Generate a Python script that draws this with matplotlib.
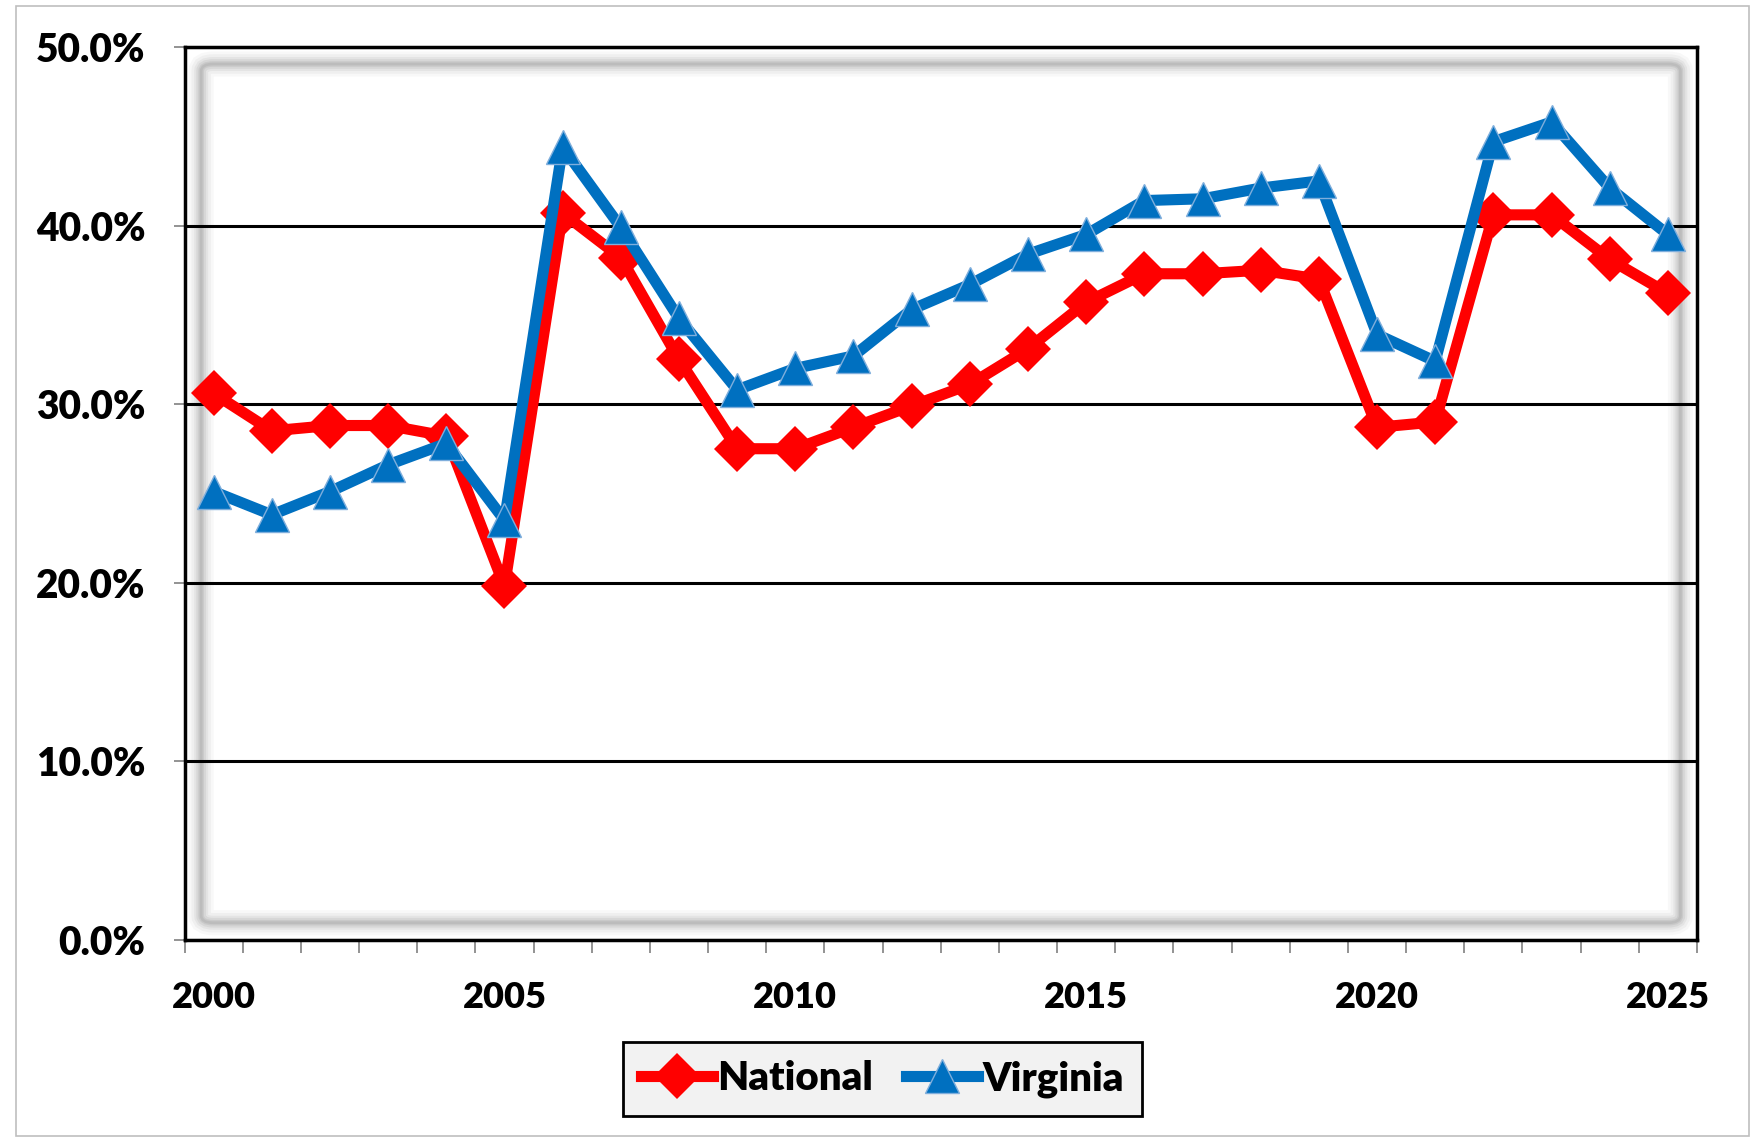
import numpy as np
import matplotlib.pyplot as plt
from matplotlib.patches import FancyBboxPatch, Rectangle
from matplotlib.ticker import FuncFormatter, FixedLocator

plt.rcParams['font.family'] = ['Lato', 'DejaVu Sans']
plt.rcParams['font.weight'] = 'heavy'

years = list(range(2000, 2026))
national = [30.6, 28.5, 28.8, 28.8, 28.2, 19.8, 40.7, 38.2, 32.5, 27.5,
            27.5, 28.7, 29.9, 31.1, 33.1, 35.7, 37.3, 37.3, 37.5, 37.0,
            28.7, 29.0, 40.6, 40.6, 38.1, 36.2]
virginia = [25.1, 23.8, 25.1, 26.6, 27.8, 23.5, 44.4, 39.9, 34.8, 30.8,
            32.0, 32.7, 35.3, 36.7, 38.4, 39.5, 41.4, 41.5, 42.1, 42.5,
            33.9, 32.4, 44.7, 45.8, 42.1, 39.5]
label_years = [2000, 2005, 2010, 2015, 2020, 2025]

fig = plt.figure(figsize=(17.54, 11.39), dpi=100)
fig.patches.append(Rectangle((0.009, 0.003), 0.988, 0.992, transform=fig.transFigure,
                             fill=False, edgecolor='#BFBFBF', linewidth=1.2))

ax = fig.add_axes([0.1052, 0.175, 0.8623, 0.7837])
x = np.arange(len(years))

# inner shadow of the plot area
for lw, a in [(18, 0.06), (14, 0.08), (10, 0.11), (7, 0.14), (4, 0.18), (2, 0.2)]:
    ax.add_patch(FancyBboxPatch((0.011, 0.019), 0.978, 0.962, boxstyle="round,pad=0,rounding_size=0.008",
                                transform=ax.transAxes, fill=False, edgecolor='#8C8C8C',
                                linewidth=lw, alpha=a, zorder=0.4))

ax.plot(x, national, color='#FF0000', linewidth=8, marker='D', markersize=23,
        markeredgewidth=0, label='National', zorder=3)
ax.plot(x, virginia, color='#0070C0', linewidth=8, marker='^', markersize=24,
        markeredgecolor='#7FAEDC', markeredgewidth=1, label='Virginia', zorder=4)

ax.set_xlim(-0.5, len(years) - 0.5)
ax.set_ylim(0, 50)
ax.set_axisbelow(True)
ax.yaxis.grid(True, color='black', linewidth=2.2)
ax.set_yticks(np.arange(0, 51, 10))
ax.yaxis.set_major_formatter(FuncFormatter(lambda v, p: '%.1f%%' % v))

ax.xaxis.set_major_locator(FixedLocator([years.index(y) for y in label_years]))
ax.set_xticklabels([str(y) for y in label_years])
ax.xaxis.set_minor_locator(FixedLocator(np.arange(-0.5, len(years), 1)))
ax.tick_params(axis='x', which='major', length=0, pad=30, labelsize=26)
ax.tick_params(axis='x', which='minor', length=9, width=1.2, color='#808080')
ax.tick_params(axis='y', length=8, width=1.2, color='#808080', pad=20, labelsize=28)

for s in ax.spines.values():
    s.set_color('black')
    s.set_linewidth(2.5)

leg = fig.legend(loc='center', bbox_to_anchor=(0.503, 0.0527), ncol=2, fontsize=29,
                 frameon=True, fancybox=False, edgecolor='black', facecolor='#F2F2F2',
                 handlelength=1.8, handletextpad=0.1, columnspacing=0.8, borderpad=0.45)
leg.get_frame().set_linewidth(2)
leg.get_frame().set_alpha(1)

fig.savefig('out.png', dpi=100)
